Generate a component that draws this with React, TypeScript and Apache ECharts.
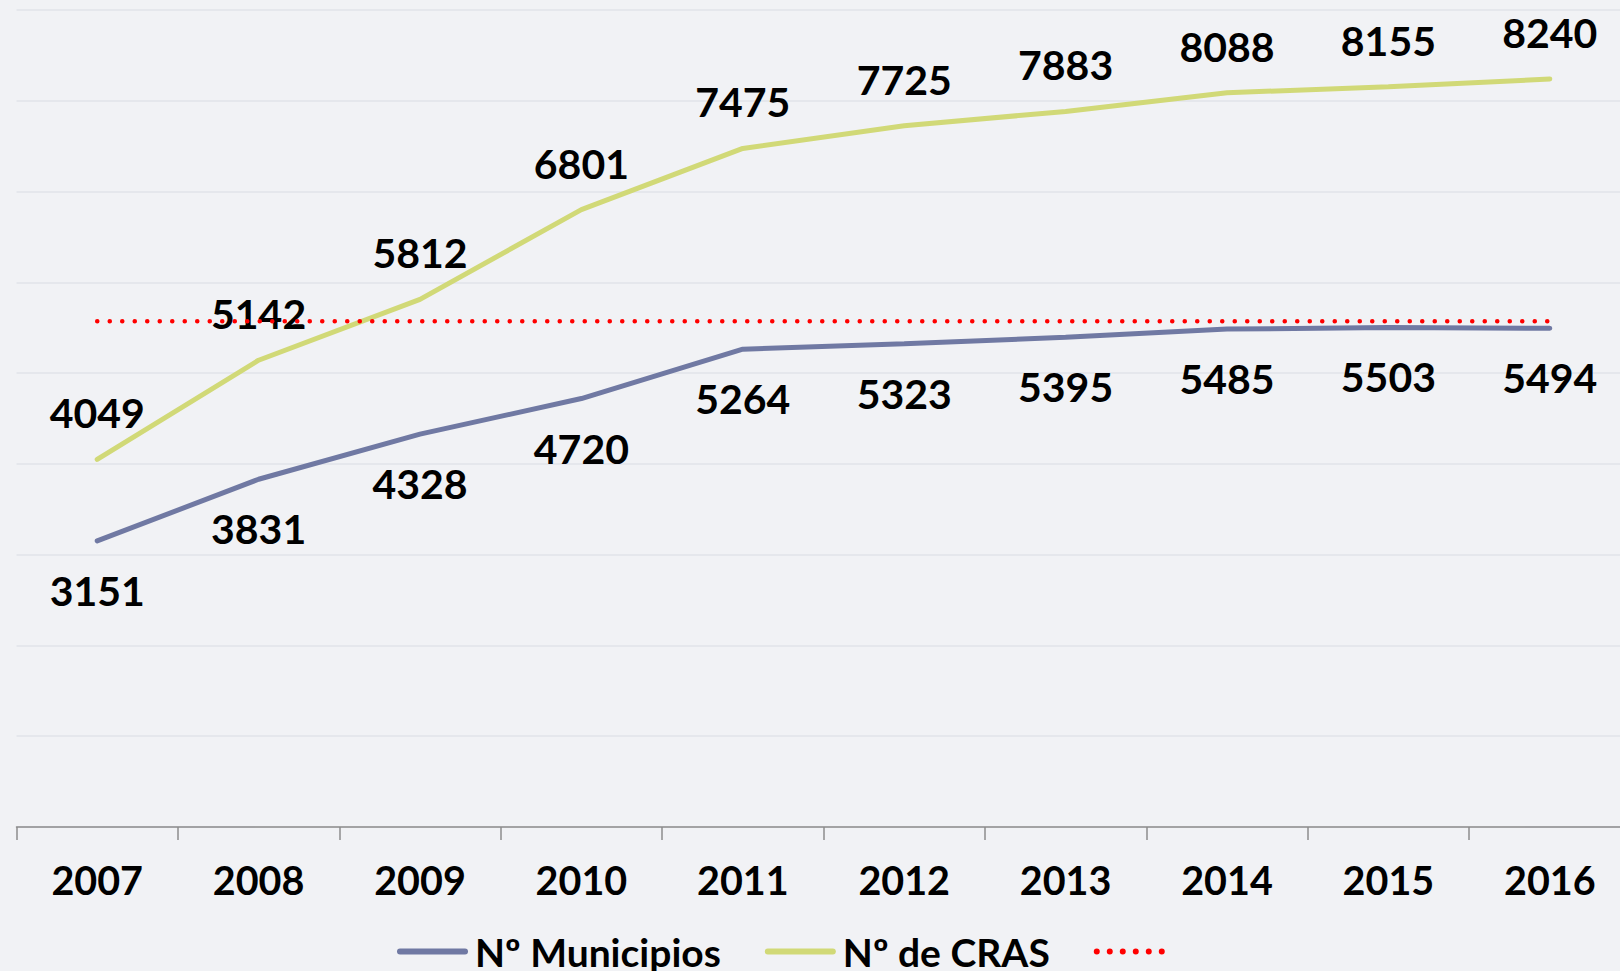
import React, { useEffect, useRef } from "react";
import * as echarts from "echarts";

const years = ["2007", "2008", "2009", "2010", "2011", "2012", "2013", "2014", "2015", "2016"];
const municipios = [3151, 3831, 4328, 4720, 5264, 5323, 5395, 5485, 5503, 5494];
const cras = [4049, 5142, 5812, 6801, 7475, 7725, 7883, 8088, 8155, 8240];
const referencia = [5570, 5570, 5570, 5570, 5570, 5570, 5570, 5570, 5570, 5570];
const seriesNames = ["Nº Municipios", "Nº de CRAS", " "];

const FONT = "Lato, 'Open Sans', sans-serif";

const barIcon = "path://M3,0 H68 A3,3 0 0 1 68,6 H3 A3,3 0 0 1 3,0 Z";
const dotIcon =
  "path://" +
  [0, 1, 2, 3, 4, 5]
    .map((i) => {
      const cx = 3 + i * 13;
      return `M${cx - 3},3 A3,3 0 1 0 ${cx + 3},3 A3,3 0 1 0 ${cx - 3},3 Z`;
    })
    .join(" ");

export default function App() {
  const ref = useRef<HTMLDivElement>(null);
  useEffect(() => {
    if (!ref.current) return;
    const chart = echarts.init(ref.current, null, { renderer: "svg" });
    const labelBase = {
      show: true,
      fontSize: 41,
      fontWeight: "bold",
      color: "#000",
      fontFamily: FONT,
    };
    chart.setOption({
      animation: false,
      backgroundColor: "#F1F2F5",
      textStyle: { fontFamily: FONT },
      grid: { left: 16.5, top: 10, width: 1614, height: 817, containLabel: false },
      legend: {
        left: 392,
        top: 927,
        itemWidth: 71,
        itemHeight: 6,
        itemGap: 44,
        data: [
          { name: seriesNames[0], icon: barIcon },
          { name: seriesNames[1], icon: barIcon },
          { name: seriesNames[2], icon: dotIcon },
        ],
        textStyle: {
          fontSize: 39,
          fontWeight: "bold",
          color: "#000",
          fontFamily: FONT,
          padding: [0, 0, 0, 2],
        },
      },
      xAxis: {
        type: "category",
        data: years,
        boundaryGap: true,
        axisLine: { show: true, lineStyle: { color: "#8C8C8C", width: 1.5 } },
        axisTick: { show: true, interval: 0, length: 13, lineStyle: { color: "#8C8C8C", width: 1.5 } },
        axisLabel: { margin: 32, fontSize: 39.5, fontWeight: "bold", color: "#000", fontFamily: FONT },
      },
      yAxis: {
        type: "value",
        min: 0,
        max: 9000,
        interval: 1000,
        axisLabel: { show: false },
        axisLine: { show: false },
        axisTick: { show: false },
        splitLine: { lineStyle: { color: "#E1E3E9", width: 1.5 } },
      },
      series: [
        {
          name: seriesNames[0],
          type: "line",
          data: municipios,
          symbol: "circle",
          symbolSize: 0,
          showSymbol: true,
          lineStyle: { color: "#7079A3", width: 5, cap: "round" },
          itemStyle: { color: "#7079A3" },
          label: { ...labelBase, position: "bottom", distance: 29 },
          z: 3,
        },
        {
          name: seriesNames[1],
          type: "line",
          data: cras,
          symbol: "circle",
          symbolSize: 0,
          showSymbol: true,
          lineStyle: { color: "#D1D977", width: 5, cap: "round" },
          itemStyle: { color: "#D1D977" },
          label: { ...labelBase, position: "top", distance: 26 },
          z: 3,
        },
        {
          name: seriesNames[2],
          type: "line",
          data: referencia,
          symbol: "none",
          lineStyle: { color: "#FF0000", width: 4.5, type: [0.1, 12.4], cap: "round" },
          itemStyle: { color: "#FF0000" },
          z: 4,
        },
      ],
    });
    return () => chart.dispose();
  }, []);
  return (
    <div
      ref={ref}
      style={{ position: "fixed", left: 0, top: 0, width: 1640, height: 971 }}
    />
  );
}
